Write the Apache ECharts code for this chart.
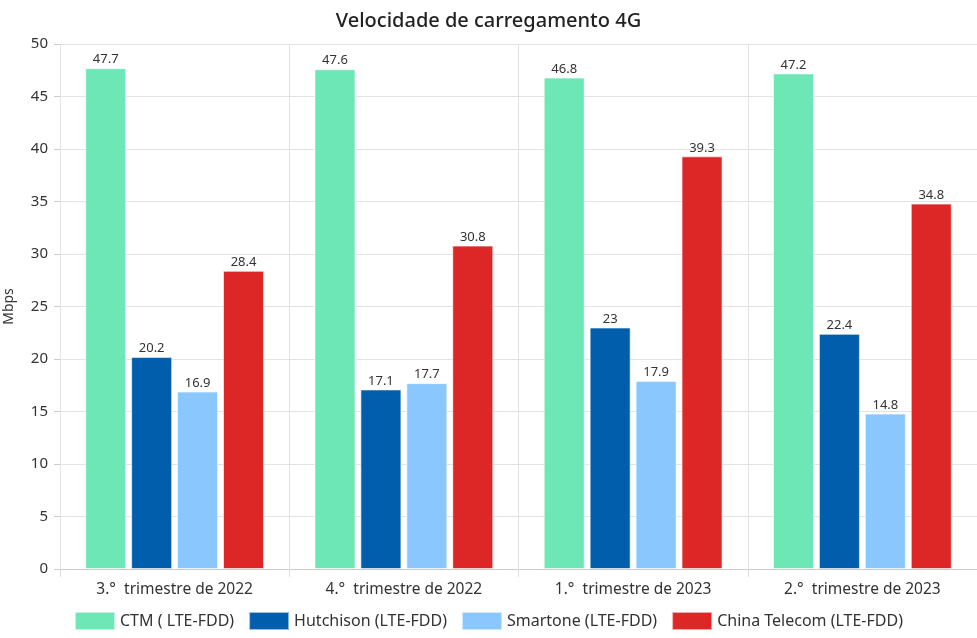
<!DOCTYPE html>
<html><head><meta charset="utf-8">
<script src="https://cdn.jsdelivr.net/npm/echarts@6/dist/echarts.min.js"></script>
<style>html,body{margin:0;padding:0;background:#fff}#c{width:977px;height:638px}</style>
</head><body><div id="c"></div>
<script>
const categories = ['3.°  trimestre de 2022', '4.°  trimestre de 2022', '1.°  trimestre de 2023', '2.°  trimestre de 2023'];
const seriesNames = ['CTM ( LTE-FDD)', 'Hutchison (LTE-FDD)', 'Smartone (LTE-FDD)', 'China Telecom (LTE-FDD)'];
const ctm = [47.7, 47.6, 46.8, 47.2];
const hutchison = [20.2, 17.1, 23, 22.4];
const smartone = [16.9, 17.7, 17.9, 14.8];
const chinaTelecom = [28.4, 30.8, 39.3, 34.8];
const colors = ['#6ee7b7', '#015eac', '#89c7fe', '#dd2727'];
const allData = [ctm, hutchison, smartone, chinaTelecom];
const font = '"Noto Sans", "Open Sans", sans-serif';
const chart = echarts.init(document.getElementById('c'));
chart.setOption({
  animation: false,
  textStyle: {fontFamily: font},
  title: {text: 'Velocidade de carregamento 4G', left: 'center', top: 6,
    textStyle: {fontFamily: font, fontSize: 20, fontWeight: 500, color: '#222'}},
  grid: {left: 60, right: 0, top: 44, bottom: 69, containLabel: false, outerBoundsMode: 'none'},
  legend: {bottom: 2, left: 'center', itemWidth: 40, itemHeight: 18, itemGap: 14,
    icon: 'rect',
    textStyle: {fontFamily: font, fontSize: 16, color: '#333'},
    data: seriesNames},
  xAxis: {type: 'category', data: categories,
    axisLine: {lineStyle: {color: '#ccc'}},
    axisTick: {show: true, length: 8, lineStyle: {color: '#ddd'}},
    splitLine: {show: true, lineStyle: {color: '#e3e3e3'}},
    axisLabel: {fontSize: 15.5, color: '#333', margin: 13}},
  yAxis: {type: 'value', min: 0, max: 50, interval: 5, name: 'Mbps',
    nameLocation: 'middle', nameGap: 44, nameRotate: 90,
    nameTextStyle: {fontSize: 14, color: '#333'},
    axisLine: {show: false},
    axisTick: {show: true, length: 6, lineStyle: {color: '#ccc'}},
    splitLine: {lineStyle: {color: '#e3e3e3'}},
    axisLabel: {fontSize: 15, color: '#333', margin: 12}},
  series: seriesNames.map((n, i) => ({
    name: n, type: 'bar', data: allData[i],
    barGap: '12%', barCategoryGap: '22%',
    itemStyle: {color: colors[i], borderColor: 'rgba(255,255,255,0.6)', borderWidth: 1},
    label: {show: true, position: 'top', distance: 2, fontSize: 13, color: '#333', fontFamily: font}
  }))
});
</script></body></html>
